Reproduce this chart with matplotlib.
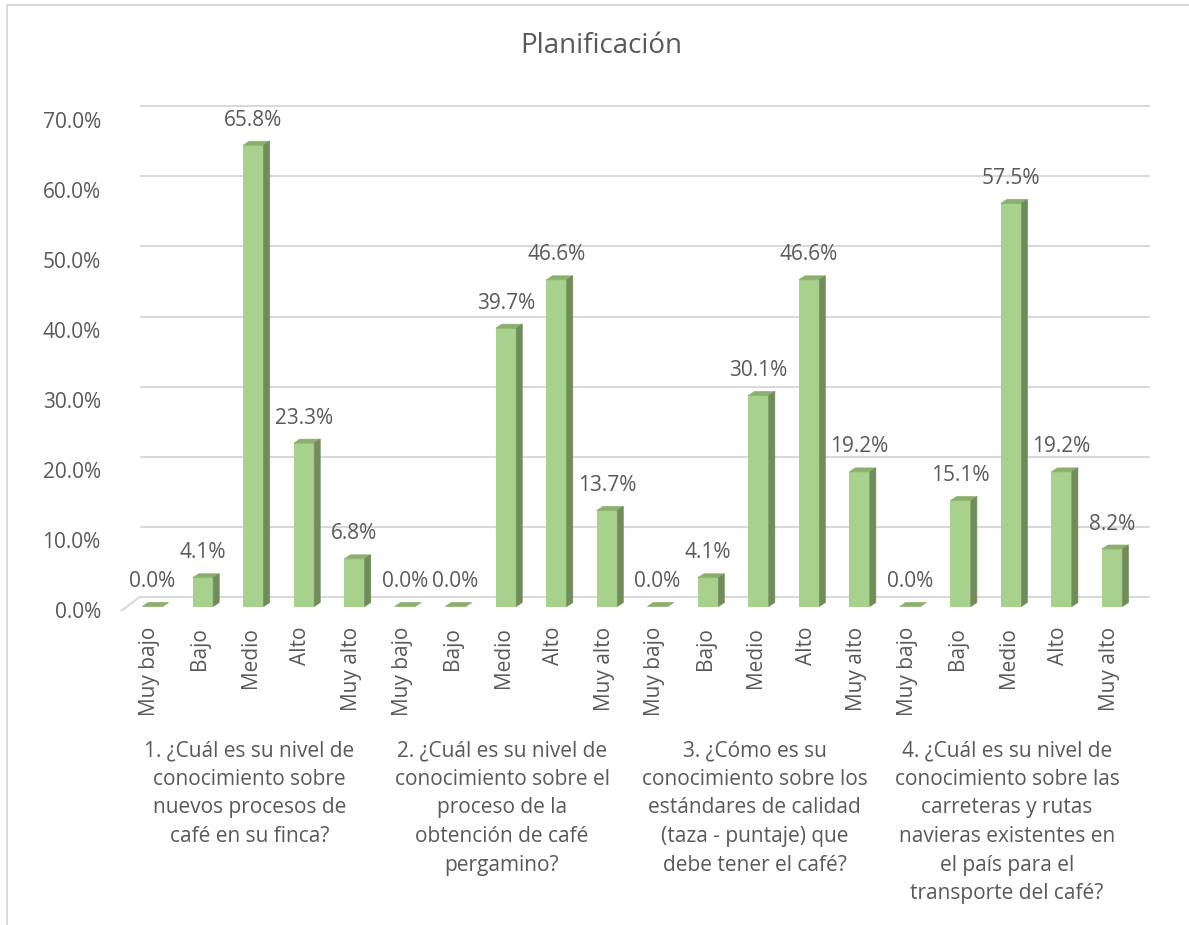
import matplotlib
matplotlib.use("Agg")
import matplotlib.pyplot as plt
from matplotlib.transforms import ScaledTranslation
from matplotlib.patches import Polygon
from matplotlib.lines import Line2D
import numpy as np

plt.rcParams['font.family'] = ['Open Sans', 'DejaVu Sans']

title = "Planificación"
levels = ["Muy bajo", "Bajo", "Medio", "Alto", "Muy alto"]
questions = [
    "1. ¿Cuál es su nivel de\nconocimiento sobre\nnuevos procesos de\ncafé en su finca?",
    "2. ¿Cuál es su nivel de\nconocimiento sobre el\nproceso de la\nobtención de café\npergamino?",
    "3. ¿Cómo es su\nconocimiento sobre los\nestándares de calidad\n(taza - puntaje) que\ndebe tener el café?",
    "4. ¿Cuál es su nivel de\nconocimiento sobre las\ncarreteras y rutas\nnavieras existentes en\nel país para el\ntransporte del café?",
]
q1 = [0.0, 4.1, 65.8, 23.3, 6.8]
q2 = [0.0, 0.0, 39.7, 46.6, 13.7]
q3 = [0.0, 4.1, 30.1, 46.6, 19.2]
q4 = [0.0, 15.1, 57.5, 19.2, 8.2]
yticks = [0, 10, 20, 30, 40, 50, 60, 70]

values = q1 + q2 + q3 + q4
labels = levels * 4
n = len(values)
x = np.arange(n)

TXT = "#595959"
GRID = "#D9D9D9"
FRONT = "#A9D18E"
SIDE = "#6F8C59"
TOP = "#8AB06C"
FS = 15

W_PX, H_PX = 1189, 925
fig = plt.figure(figsize=(W_PX / 100, H_PX / 100), dpi=100)

x0_px, x1_px = 127.2, 1137.4
y0_px, ppu = 606.5, 7.01
y1_px = y0_px - 70 * ppu
ax = fig.add_axes([x0_px / W_PX, (H_PX - y0_px) / H_PX,
                   (x1_px - x0_px) / W_PX, (y0_px - y1_px) / H_PX])
ax.set_xlim(-0.5, n - 0.5)
ax.set_ylim(0, 70)
ax.patch.set_alpha(0)
for s in ax.spines.values():
    s.set_visible(False)


def off(dx, dy):
    return ax.transData + ScaledTranslation(dx / 100, dy / 100, fig.dpi_scale_trans)


# back wall gridlines
GDX, GDY = 12.5, 9.5
for v in yticks:
    ax.plot([-0.5, n - 0.5], [v, v], color=GRID, lw=1.5, transform=off(GDX, GDY),
            clip_on=False, zorder=1, solid_capstyle='butt')
# left floor edge
inv = fig.transFigure.inverted()
p_a = ax.transData.transform((-0.5, 0)) + np.array([-5.5, -4.0])
p_b = ax.transData.transform((-0.5, 0)) + np.array([GDX, GDY])
fa, fb = inv.transform(p_a), inv.transform(p_b)
fig.add_artist(Line2D([fa[0], fb[0]], [fa[1], fb[1]], color=GRID, lw=1.5))

# bars (3D look)
bw = 0.405
DX = 6 / ((x1_px - x0_px) / n)
DY = 4 / ppu
ax.bar(x, values, width=bw, color=FRONT, zorder=3)
for xi, v in zip(x, values):
    l, r = xi - bw / 2, xi + bw / 2
    top = Polygon([(l, v), (r, v), (r + DX, v + DY), (l + DX, v + DY)],
                  closed=True, facecolor=TOP, edgecolor=TOP, lw=0.5, zorder=4)
    ax.add_patch(top)
    if v > 0:
        side = Polygon([(r, 0), (r + DX, DY), (r + DX, v + DY), (r, v)],
                       closed=True, facecolor=SIDE, edgecolor=SIDE, lw=0.5, zorder=4)
        ax.add_patch(side)
    ax.annotate(f"{v:.1f}%", (xi, v), xytext=(0, 18), textcoords='offset points',
                ha='center', va='center', fontsize=FS, color=TXT, zorder=5)

# y axis
ax.set_yticks(yticks)
ax.set_yticklabels([f"{v:.1f}%" for v in yticks])
ax.tick_params(axis='y', length=0, pad=19, labelsize=FS, labelcolor=TXT)
for lab in ax.get_yticklabels():
    lab.set_transform(lab.get_transform() + ScaledTranslation(0, -0.04, fig.dpi_scale_trans))

# x axis
ax.set_xticks(x)
ax.set_xticklabels(labels, rotation=90)
ax.tick_params(axis='x', length=0, pad=14.5, labelsize=FS, labelcolor=TXT)
for lab in ax.get_xticklabels():
    lab.set_transform(lab.get_transform() + ScaledTranslation(-0.03, 0, fig.dpi_scale_trans))

# group labels
for g, q in enumerate(questions):
    cx = g * 5 + 2
    fx = inv.transform((ax.transData.transform((cx, 0))[0] - 4, H_PX - 740))
    fig.text(fx[0], fx[1], q, ha='center', va='top', fontsize=FS, color=TXT,
             linespacing=1.48, multialignment='center')

fig.text(601 / W_PX, 1 - 46 / H_PX, title, ha='center', va='center', fontsize=20, color=TXT)

# chart border (top and left edges visible)
fig.add_artist(Line2D([7 / W_PX, 7 / W_PX], [0, 1 - 5 / H_PX], color=GRID, lw=1.5))
fig.add_artist(Line2D([7 / W_PX, 1], [1 - 5 / H_PX, 1 - 5 / H_PX], color=GRID, lw=1.5))

fig.savefig("out.png", dpi=100)
